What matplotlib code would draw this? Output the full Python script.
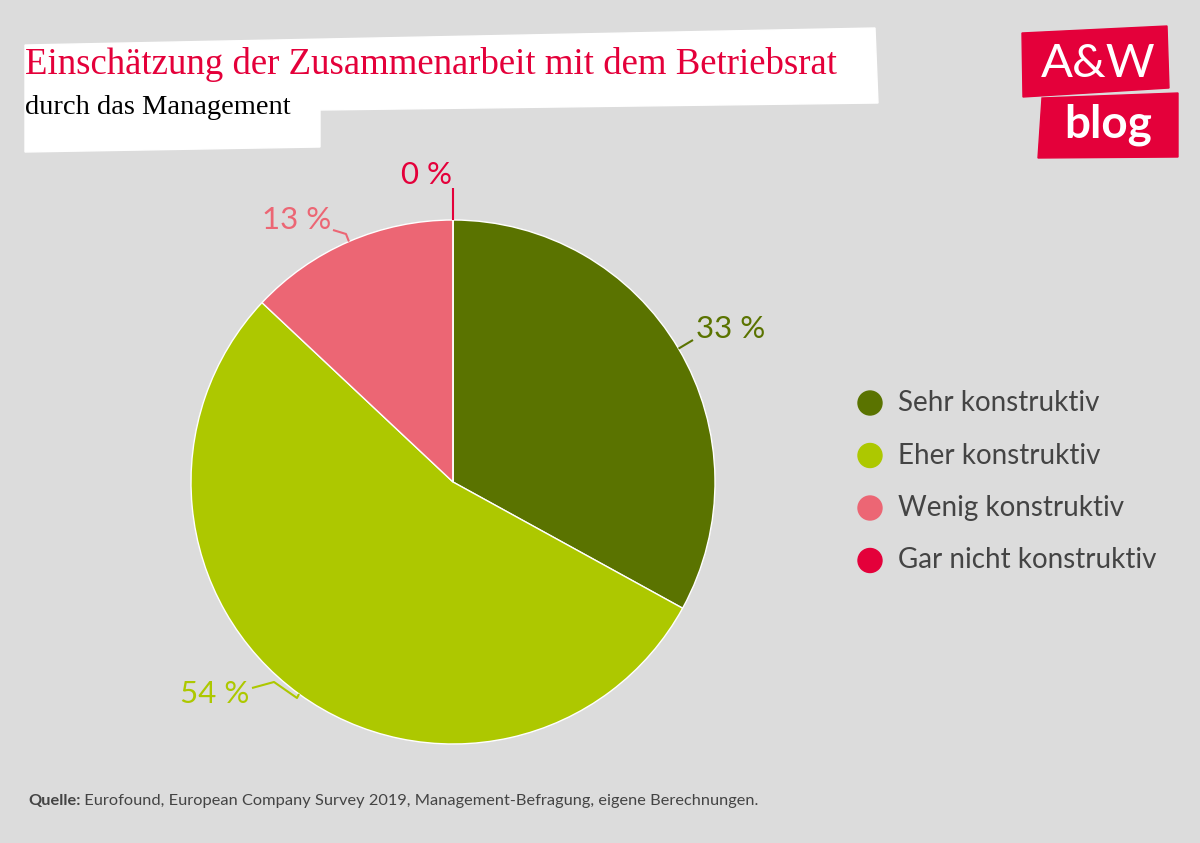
import matplotlib.pyplot as plt
import numpy as np
from matplotlib.patches import Polygon, Circle

# Daten
categories = ['Sehr konstruktiv', 'Eher konstruktiv', 'Wenig konstruktiv', 'Gar nicht konstruktiv']
values = [33, 54, 13, 0]
labels = ['33 %', '54 %', '13 %', '0 %']
colors = ['#5a7300', '#adc800', '#ec6674', '#e4003a']

title = 'Einschätzung der Zusammenarbeit mit dem Betriebsrat'
subtitle = 'durch das Management'
source_bold = 'Quelle:'
source_text = ' Eurofound, European Company Survey 2019, Management-Befragung, eigene Berechnungen.'

W, H = 1200, 843
BG = '#dcdcdc'
RED = '#e4003a'
GREY = '#444444'


def Y(y):
    # Pixel von oben -> Achsenkoordinate
    return H - y


fig = plt.figure(figsize=(12, 8.43), dpi=100, facecolor=BG)
ax = fig.add_axes([0, 0, 1, 1])
ax.set_facecolor(BG)

# Kreisdiagramm
cx, cy, r = 453, Y(482), 262
ax.pie(values, colors=colors, startangle=90, counterclock=False,
       center=(cx, cy), radius=r,
       wedgeprops=dict(edgecolor='white', linewidth=1))
ax.set_xlim(0, W)
ax.set_ylim(0, H)
ax.set_aspect('equal')
ax.axis('off')

# Beschriftungen mit Hinweislinien
mids = 90 - 360 * (np.cumsum(values) - np.array(values) / 2) / 100
label_pos = [(696, 329, 'left'), (180, 694, 'left'), (331, 220, 'right'), (452, 175, 'right')]
elbows = [[(693, 340)], [(297, 698), (274, 682), (252, 688)], [(346, 234), (333, 230)], [(453, 188)]]
for i in range(len(values)):
    a = np.deg2rad(mids[i])
    pts = [(cx + r * np.cos(a), cy + r * np.sin(a))] + [(x, Y(y)) for x, y in elbows[i]]
    xs, ys = zip(*pts)
    ax.plot(xs, ys, color=colors[i], lw=1.5, solid_capstyle='butt')
    tx, ty, ha = label_pos[i]
    ax.text(tx, Y(ty), labels[i], color=colors[i], fontsize=22.5, family='Lato',
            ha=ha, va='center')

# Legende
for i, cat in enumerate(categories):
    ly = Y(403 + i * 52.5)
    ax.add_patch(Circle((870, ly), 12, color=colors[i]))
    ax.text(898, ly, cat, fontsize=20, family='Lato', color=GREY, va='center')

# Titelbox
box = [(25, 45), (875, 28), (878, 103), (320, 110), (320, 147), (25, 152)]
ax.add_patch(Polygon([(x, Y(y)) for x, y in box], color='white', zorder=0))
ax.text(25, Y(64), title, fontsize=26.5, family='Liberation Serif', color=RED, va='center')
ax.text(25, Y(107), subtitle, fontsize=20.5, family='Liberation Serif', color='black', va='center')

# Logo
logo1 = [(1022, 33), (1167, 26), (1169, 88), (1023, 97)]
logo2 = [(1042, 98), (1178, 93), (1178, 157), (1038, 158)]
for p in (logo1, logo2):
    ax.add_patch(Polygon([(x, Y(y)) for x, y in p], color=RED))
ax.text(1098, Y(64), 'A&W', fontsize=34, family='Lato', color='white', ha='center', va='center')
ax.text(1108, Y(125), 'blog', fontsize=33, family='Lato', weight='bold', color='white',
        ha='center', va='center')

# Quelle
t1 = ax.text(28, Y(801), source_bold, fontsize=11.8, family='Lato', weight='bold',
             color=GREY, va='center')
ax.annotate(source_text, xy=(1, 0.5), xycoords=t1, fontsize=11.8, family='Lato',
            color=GREY, va='center', ha='left')

fig.savefig('out.png', dpi=100, facecolor=BG)
